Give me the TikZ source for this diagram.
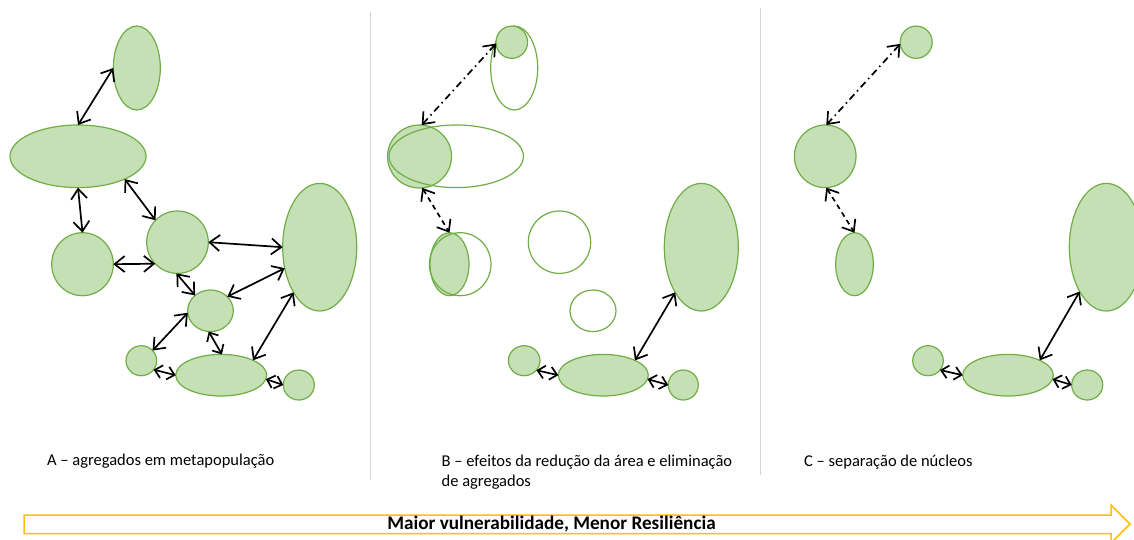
\documentclass[tikz,border=0pt]{standalone}
\usepackage{fontspec}
\setmainfont{Carlito}
\usetikzlibrary{shapes.geometric,arrows.meta}
\definecolor{gline}{HTML}{70AD47}
\definecolor{gfill}{HTML}{C5E0B4}
\definecolor{gold}{HTML}{FFC000}
\definecolor{divgray}{HTML}{D4D4D4}
\begin{document}
\begin{tikzpicture}[x=1pt,y=-1pt,
  patch/.style={ellipse, draw=gline, fill=gfill, line width=1.2pt, inner sep=0pt, outer sep=0pt},
  ghost/.style={ellipse, draw=gline, line width=1.2pt, inner sep=0pt, outer sep=0pt},
  link/.style={{Straight Barb[length=10pt,width=16pt]}-{Straight Barb[length=10pt,width=16pt]}, line width=1.7pt},
  shortlink/.style={{Straight Barb[length=7pt,width=13pt]}-{Straight Barb[length=7pt,width=13pt]}, line width=1.7pt},
  dashdotlink/.style={link, dash pattern=on 7pt off 4pt on 1.5pt off 4pt},
  dashlink/.style={link, dash pattern=on 5pt off 4pt},
  divider/.style={draw=divgray, line width=1pt},
  caption/.style={anchor=base west, inner sep=0pt, font=\fontsize{16.5}{20.5}\selectfont, align=left},
  banner/.style={draw=gold, line width=1.5pt},
  bannertext/.style={inner sep=0pt, font=\fontsize{19.2}{22}\selectfont\bfseries}]
\path[use as bounding box] (0,0) rectangle (1134,540);
\clip (0,0) rectangle (1134,540);

% dividers
\coordinate (d1t) at (370,12); \coordinate (d1b) at (370,480);
\coordinate (d2t) at (760,8);  \coordinate (d2b) at (760,475);
\draw[divider] (d1t) -- (d1b);
\draw[divider] (d2t) -- (d2b);

% ---------- Panel A ----------
\node[patch, minimum width=47pt, minimum height=84pt] (a1) at (136.8,68) {};
\node[patch, minimum width=136pt, minimum height=62.6pt] (a2) at (78,156.3) {};
\node[patch, minimum width=61.6pt, minimum height=63pt] (a3) at (82.5,264.2) {};
\node[patch, minimum width=61.6pt, minimum height=62.4pt] (a4) at (177.5,242.2) {};
\node[patch, minimum width=74pt, minimum height=127.6pt] (a5) at (319.7,247.2) {};
\node[patch, minimum width=45.6pt, minimum height=41.6pt] (a6) at (210.5,310.8) {};
\node[patch, minimum width=30.6pt, minimum height=30pt] (a7) at (141.3,360.7) {};
\node[patch, minimum width=91pt, minimum height=41.6pt] (a8) at (221.2,375.2) {};
\node[patch, minimum width=31pt, minimum height=30pt] (a9) at (298.8,385) {};

\draw[link] (a2.north) -- (a1.west);
\draw[link] (a2.south) -- (a3.north);
\draw[link] (a2.-26) -- (a4.135);
\draw[link] (a3.east) -- (a4.224);
\draw[link] (a4.east) -- (a5.west);
\draw[link] (a4.-92) -- (a6.135);
\draw[link] (a5.211) -- (a6.40);
\draw[link] (a5.240) -- (a8.25);
\draw[shortlink] (a6.-95) -- (a8.88);
\draw[link] (a6.185) -- (a7.42);
\draw[shortlink] (a7.-36) -- (a8.west);
\draw[shortlink] (a8.-5) -- (a9.west);

% ---------- Panel B ----------
\node[ghost, minimum width=47pt, minimum height=84pt] (b1) at (514.2,68) {};
\node[patch, minimum width=31.6pt, minimum height=32.3pt] (b1f) at (511.8,42.2) {};
\node[patch, minimum width=64pt, minimum height=63pt] (b2f) at (419.5,156.5) {};
\node[ghost, minimum width=134.4pt, minimum height=62.6pt] (b2) at (456.2,156.3) {};
\node[patch, minimum width=39pt, minimum height=63pt] (b3f) at (449.5,264.2) {};
\node[ghost, minimum width=61.6pt, minimum height=63pt] (b3) at (460.2,264.2) {};
\node[ghost, minimum width=62.4pt, minimum height=62.4pt] (b4) at (559.5,242.2) {};
\node[ghost, minimum width=46pt, minimum height=41.6pt] (b6) at (593,310.8) {};
\node[patch, minimum width=74pt, minimum height=127.6pt] (b5) at (701.3,247.2) {};
\node[patch, minimum width=31.6pt, minimum height=30pt] (b7) at (524.2,360.7) {};
\node[patch, minimum width=90pt, minimum height=41.6pt] (b8) at (603.3,375.2) {};
\node[patch, minimum width=30pt, minimum height=30pt] (b9) at (683.3,385) {};

\draw[dashdotlink] (b1f.185) -- (b2f.86);
\draw[dashlink] (b2f.-85) -- (b3f.north);
\draw[link] (b5.240) -- (b8.25);
\draw[shortlink] (b8.west) -- (b7.-38);
\draw[shortlink] (b8.-5) -- (b9.west);

% ---------- Panel C ----------
\node[patch, minimum width=32pt, minimum height=32.3pt] (c1) at (916.2,42.2) {};
\node[patch, minimum width=61.6pt, minimum height=62.6pt] (c2) at (825.2,156.3) {};
\node[patch, minimum width=37.6pt, minimum height=63pt] (c3) at (854.5,264.2) {};
\node[patch, minimum width=74pt, minimum height=127.6pt] (c5) at (1106.3,247.2) {};
\node[patch, minimum width=30.6pt, minimum height=30pt] (c7) at (928,360.7) {};
\node[patch, minimum width=90.6pt, minimum height=41.6pt] (c8) at (1008,375.2) {};
\node[patch, minimum width=31pt, minimum height=30pt] (c9) at (1087.2,385) {};

\draw[dashdotlink] (c1.186) -- (c2.88);
\draw[dashlink] (c2.-88) -- (c3.north);
\draw[link] (c5.239) -- (c8.25);
\draw[shortlink] (c8.west) -- (c7.-38);
\draw[shortlink] (c8.-5) -- (c9.west);

% ---------- captions ----------
\node[caption] (capA) at (47,465.7) {A – agregados em metapopulação};
\node[caption] (capB) at (441.5,486.8) {B – efeitos da redução da área e eliminação\\de agregados};
\node[caption] (capC) at (804,466) {C – separação de núcleos};

% ---------- banner arrow ----------
\draw[banner] (24,515) -- (1111,515) -- (1111,505) -- (1130,524) -- (1111,543) -- (1111,533.5) -- (24,533.5) -- cycle;
\node[bannertext] (bannerlabel) at (551.5,524) {Maior vulnerabilidade, Menor Resiliência};
\end{tikzpicture}
\end{document}
